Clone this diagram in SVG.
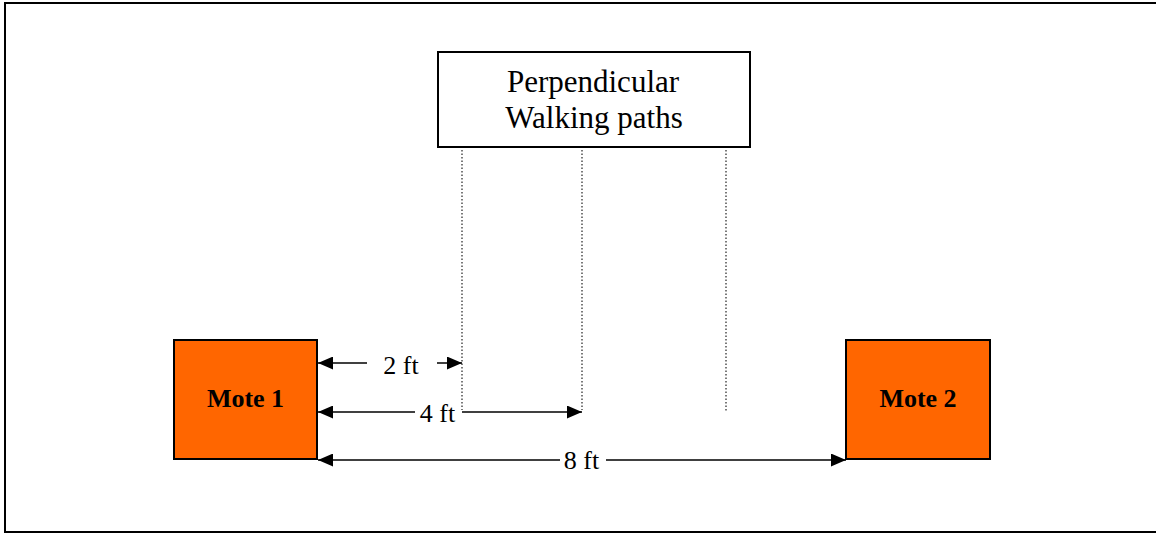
<svg xmlns="http://www.w3.org/2000/svg" width="1156" height="533" viewBox="0 0 1156 533">
<style>
.serif{font-family:"Liberation Serif","Times New Roman",serif;fill:#000}
.lbl{font-size:26px;text-anchor:middle}
.mote{fill:#ff6600;stroke:#000;stroke-width:2}
.dim{stroke:#000;stroke-width:1.5;fill:none}
.path{stroke:#333;stroke-width:1.3;stroke-dasharray:1.5 2;fill:none}
</style>
<defs>
<marker id="ah" markerWidth="15" markerHeight="13" refX="15" refY="6.5" orient="auto-start-reverse" markerUnits="userSpaceOnUse">
<path d="M0,0 L15,6.5 L0,13 Z" fill="#000"/>
</marker>
</defs>
<rect x="5" y="3" width="1160" height="529" fill="#fff" stroke="#000" stroke-width="2"/>
<g id="paths-label">
<rect x="438" y="52" width="312" height="95" fill="#fff" stroke="#000" stroke-width="2"/>
<text class="serif" x="593" y="92" font-size="31" text-anchor="middle">Perpendicular</text>
<text class="serif" x="594" y="128" font-size="31" text-anchor="middle">Walking paths</text>
</g>
<g id="mote1">
<rect class="mote" x="174" y="340" width="143" height="119"/>
<text class="serif" x="245.5" y="407" font-size="26" font-weight="bold" text-anchor="middle">Mote 1</text>
</g>
<g id="mote2">
<rect class="mote" x="846" y="340" width="144" height="119"/>
<text class="serif" x="918" y="407" font-size="26" font-weight="bold" text-anchor="middle">Mote 2</text>
</g>
<g id="connectors">
<line class="path" x1="462" y1="150" x2="462" y2="410"/>
<line class="path" x1="582" y1="150" x2="582" y2="410"/>
<line class="path" x1="726" y1="150" x2="726" y2="412"/>
<line class="dim" x1="367" y1="363" x2="318" y2="363" marker-end="url(#ah)"/>
<line class="dim" x1="437" y1="363" x2="462" y2="363" marker-end="url(#ah)"/>
<line class="dim" x1="415" y1="412" x2="318" y2="412" marker-end="url(#ah)"/>
<line class="dim" x1="462" y1="412" x2="582" y2="412" marker-end="url(#ah)"/>
<line class="dim" x1="560" y1="460" x2="318" y2="460" marker-end="url(#ah)"/>
<line class="dim" x1="606" y1="460" x2="846" y2="460" marker-end="url(#ah)"/>
</g>
<g id="dim-labels">
<text class="serif lbl" x="401" y="374">2 ft</text>
<text class="serif lbl" x="437.5" y="422">4 ft</text>
<text class="serif lbl" x="581.5" y="469">8 ft</text>
</g>
</svg>
